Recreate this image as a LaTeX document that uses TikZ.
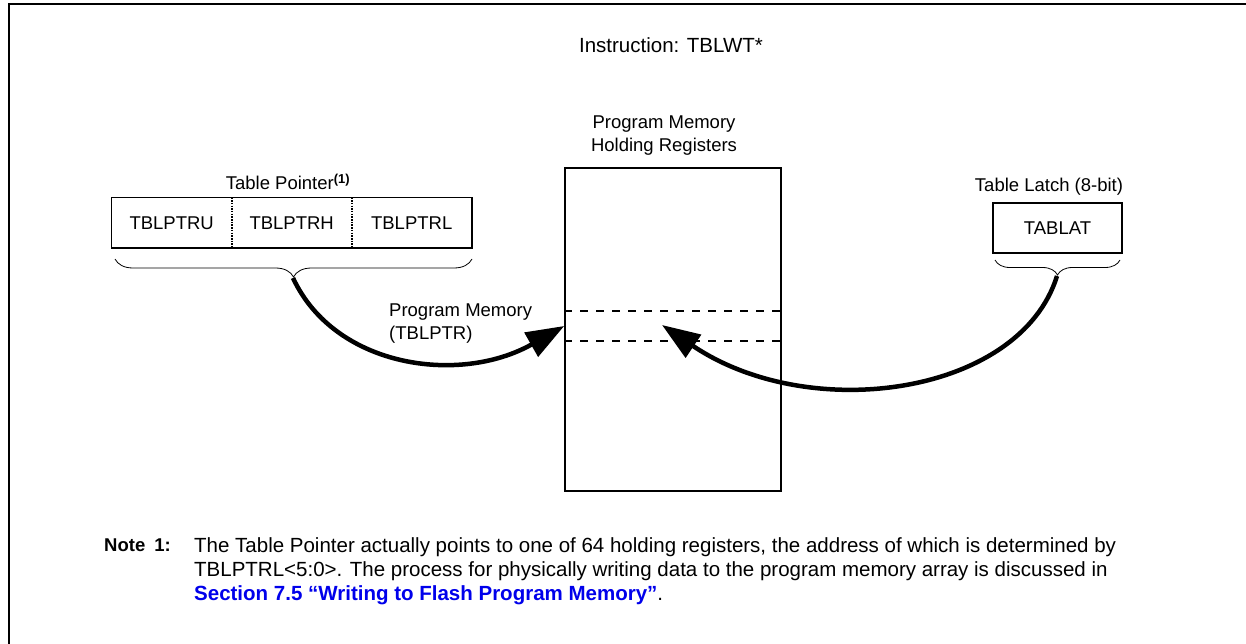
\documentclass[tikz,border=0pt]{standalone}
\usepackage{fontspec}
\setmainfont{Liberation Sans}
\usepackage{xcolor}
\usetikzlibrary{arrows.meta,decorations.pathreplacing}
\definecolor{linkblue}{RGB}{0,0,235}

\begin{document}
\begin{tikzpicture}[x=1pt, y=-1pt, every node/.style={font=\fontsize{18.5}{23}\selectfont, inner sep=0pt}]
        \tikzset{regbox/.style={draw, line width=1.6pt}}
        \tikzset{cell/.style={minimum width=120pt, minimum height=50pt}}
        \tikzset{divider/.style={line width=1.2pt, dash pattern=on 1.5pt off 1.2pt}}
        \tikzset{slot/.style={line width=1.5pt, dash pattern=on 8pt off 8pt}}
        \tikzset{curly/.style={decorate, decoration={brace, mirror, amplitude=#1}, line width=0.8pt}}
        \tikzset{flow/.style={line width=4.5pt, -{Triangle[length=38pt, width=27pt]}}}
        \tikzset{bigtext/.style={font=\fontsize{20.5}{24}\selectfont}}
        \useasboundingbox (0,0) rectangle (1246,644);
        \draw[line width=2pt] (9.3,644) -- (9.3,4.3) -- (1246,4.3);
        \node[bigtext] (instr) at (671,45) {Instruction: TBLWT*};
        % holding registers
        \node[regbox, minimum width=216pt, minimum height=323pt] (hold) at (673,329.5) {};
        \node[align=center] (holdlbl) at (664,136) {Program Memory\\Holding Registers};
        \draw[slot] (hold.west |- 0,311) -- (hold.east |- 0,311);
        \draw[slot] (hold.west |- 0,341) -- (hold.east |- 0,341);
        % table pointer
        \node[cell, text depth=-3pt] (tblu) at (171.7,222.7) {TBLPTRU};
        \node[cell, text depth=-3pt] (tblh) at (291.7,222.7) {TBLPTRH};
        \node[cell, text depth=-3pt] (tbll) at (411.7,222.7) {TBLPTRL};
        \draw[regbox] (tblu.north west) rectangle (tbll.south east);
        \draw[divider] (tblu.north east) -- (tblu.south east);
        \draw[divider] (tblh.north east) -- (tblh.south east);
        \node (tplbl) at (288,182) {Table Pointer\textsuperscript{\textbf{(1)}}};
        \coordinate (pa) at (115,259);
        \coordinate (pb) at (472,259);
        \draw[curly=18pt] (pa) -- (pb);
        \coordinate (ptip) at (293,278);
        % table latch
        \node[regbox, minimum width=129pt, minimum height=50pt] (tablat) at (1057.5,228) {TABLAT};
        \node (tllbl) at (1049,187) {Table Latch (8-bit)};
        \coordinate (la) at (995,260);
        \coordinate (lb) at (1120,260);
        \draw[curly=15pt] (la) -- (lb);
        \coordinate (ltip) at (1057,276);
        % arrows
        \coordinate (rd) at (hold.west |- 0,326);
        \coordinate (wr) at (662,325);
        \draw[flow] (ptip) .. controls (335,368) and (460,385) .. (rd);
        \draw[flow] (ltip) .. controls (1020,395) and (810,425) .. (wr);
        \node[anchor=west, align=left] (pmlbl) at (389,324) {Program Memory\\(TBLPTR)};
        % note
        \node[anchor=west] (notehd) at (104,545) {\textbf{Note}\hspace{9pt}\textbf{1:}};
        \node[bigtext, anchor=north west, align=left] (notetxt) at (194,537) {The Table Pointer actually points to one of 64 holding registers, the address of which is determined by\\
        TBLPTRL<5:0>. The process for physically writing data to the program memory array is discussed in\\
        \textcolor{linkblue}{\textbf{Section 7.5 “Writing to Flash Program Memory”}}.};
\end{tikzpicture}
\end{document}
